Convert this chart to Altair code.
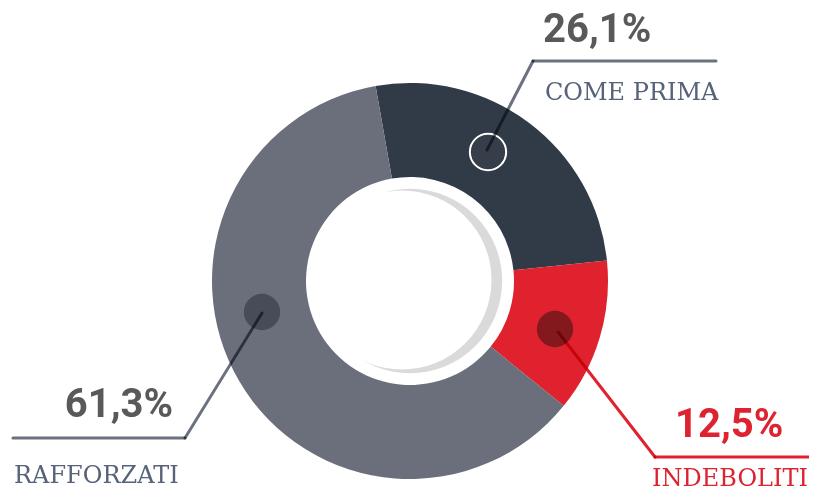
import math
import altair as alt
import pandas as pd

# ---- data ----
categories = ["COME PRIMA", "INDEBOLITI", "RAFFORZATI"]
values = [26.1, 12.5, 61.3]
order = [0, 1, 2]

df = pd.DataFrame({"categoria": categories, "valore": values, "ordine": order})
df["etichetta"] = df["valore"].map(lambda v: f"{v:.1f}".replace(".", ",") + "%")

# ---- styles ----
slice_colors = ["#313a47", "#e0222f", "#6a6f7b"]
start = math.radians(-10)
cx, cy = 402, 273
R_OUT, R_IN = 198, 104

base = alt.Chart(df)
one = base.transform_filter(alt.datum.ordine == 0)


def pick(i):
    return base.transform_filter(alt.datum.ordine == i)


shadow = one.mark_circle(size=math.pi * R_IN ** 2, color="#dadada", opacity=1).encode(
    x=alt.value(cx), y=alt.value(cy)
)

donut = base.mark_arc(outerRadius=R_OUT, innerRadius=R_IN).encode(
    theta=alt.Theta("valore:Q", stack=True,
                    scale=alt.Scale(range=[start, start + 2 * math.pi])),
    color=alt.Color("categoria:N",
                    scale=alt.Scale(domain=categories, range=slice_colors),
                    legend=None),
    order=alt.Order("ordine:Q"),
    x=alt.value(cx), y=alt.value(cy),
)

hole = one.mark_circle(size=math.pi * 101 ** 2, color="#ffffff", opacity=1).encode(
    x=alt.value(394), y=alt.value(272)
)


def dot(i, x, y, fill, stroke=None):
    kw = dict(size=math.pi * 20.5 ** 2, color=fill, opacity=1)
    if stroke:
        kw.update(stroke=stroke, strokeWidth=2)
    return pick(i).mark_circle(**kw).encode(x=alt.value(x), y=alt.value(y))


def seg(x1, y1, x2, y2, color):
    return one.mark_rule(color=color, strokeWidth=3, strokeCap="round",
                         blend="multiply").encode(
        x=alt.value(x1), y=alt.value(y1), x2=alt.value(x2), y2=alt.value(y2)
    )


gray_line = "#6b717e"
red_line = "#e0222f"

dots = [
    dot(0, 480, 144, "#363e4a", stroke="#ffffff"),
    dot(2, 254, 304, "#474c59"),
    dot(1, 547, 321, "#83181d"),
]

lines = [
    seg(479, 142, 525, 53, gray_line),
    seg(525, 53, 708, 53, gray_line),
    seg(254, 305, 177, 430, gray_line),
    seg(177, 430, 5, 430, gray_line),
    seg(550, 324, 647, 449, red_line),
    seg(647, 449, 805, 449, red_line),
]

pct_font = dict(font="Roboto", fontSize=40, fontWeight="bold")
lab_font = dict(font="DejaVu Serif", fontSize=24, fontWeight="normal")

texts = [
    pick(0).mark_text(align="left", baseline="alphabetic", color="#58595b", **pct_font)
    .encode(text="etichetta:N", x=alt.value(535), y=alt.value(34)),
    pick(0).mark_text(align="left", baseline="alphabetic", color="#57637a", **lab_font)
    .encode(text="categoria:N", x=alt.value(537), y=alt.value(92)),
    pick(2).mark_text(align="right", baseline="alphabetic", color="#58595b", **pct_font)
    .encode(text="etichetta:N", x=alt.value(165), y=alt.value(409)),
    pick(2).mark_text(align="left", baseline="alphabetic", color="#57637a", **lab_font)
    .encode(text="categoria:N", x=alt.value(6), y=alt.value(475)),
    pick(1).mark_text(align="left", baseline="alphabetic", color="#dd2330", **pct_font)
    .encode(text="etichetta:N", x=alt.value(667), y=alt.value(429)),
    pick(1).mark_text(align="right", baseline="alphabetic", color="#dd2330", **lab_font)
    .encode(text="categoria:N", x=alt.value(800), y=alt.value(478)),
]

chart = alt.layer(shadow, donut, hole, *dots, *lines, *texts).properties(
    width=801, height=481, padding=0, autosize="none",
    background="#ffffff",
).configure_view(stroke=None)

chart.save("out.html", embed_options={"renderer": "svg", "actions": False})
